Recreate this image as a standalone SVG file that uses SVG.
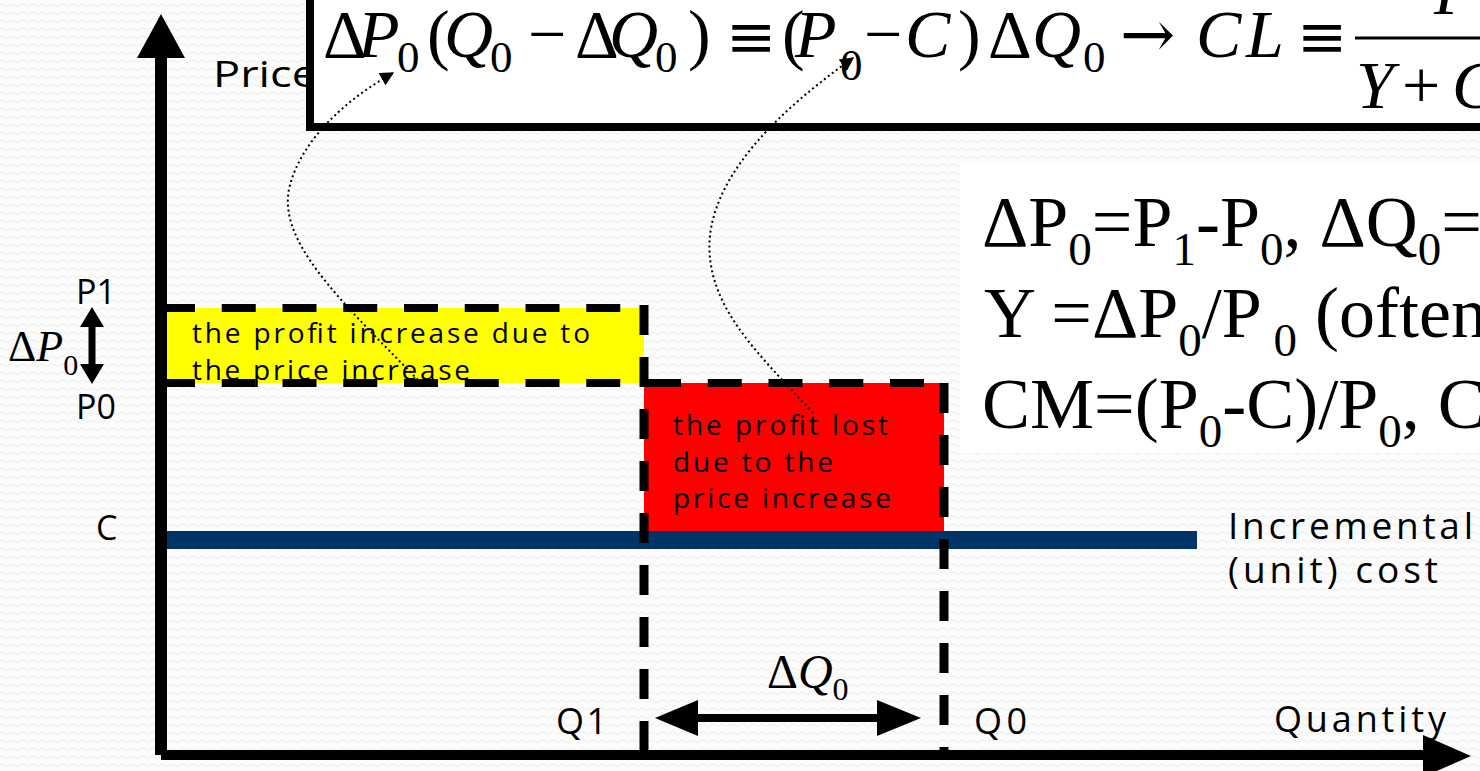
<svg xmlns="http://www.w3.org/2000/svg" width="1480" height="771" viewBox="0 0 1480 771">
<defs>
<pattern id="bgp" width="10" height="8" patternUnits="userSpaceOnUse">
<rect width="10" height="8" fill="#fcfcfc"/>
<path d="M0,5 Q2.5,2 5,5 T10,5" fill="none" stroke="#ececec" stroke-width="1"/>
</pattern>
<marker id="dotHead" viewBox="0 0 10 10" refX="9" refY="5" markerWidth="14" markerHeight="14" markerUnits="userSpaceOnUse" orient="auto">
<path d="M0,0 L10,5 L0,10 Z" fill="#000"/>
</marker>
</defs>
<style>
.lbl{font-family:"Open Sans","Noto Sans",sans-serif;fill:#000;}
.box{font-family:"Open Sans","Noto Sans",sans-serif;fill:#000;font-size:28px;}
.ser{font-family:"Liberation Serif","Times New Roman",serif;fill:#000;}
.sym{font-family:"DejaVu Serif","Liberation Serif",serif;}
.it{font-style:italic;}
.dashH{stroke:#000;stroke-width:8;stroke-dasharray:34 26.75;fill:none;}
.dashV{stroke:#000;stroke-width:9;stroke-dasharray:30 22;fill:none;}
.dotted{stroke:#000;stroke-width:2;stroke-dasharray:2 3;fill:none;}
</style>
<rect width="1480" height="771" fill="url(#bgp)"/>

<g id="price-label"><text class="lbl" x="213" y="87" font-size="36" textLength="104" lengthAdjust="spacingAndGlyphs">Price</text></g>

<g id="formula-box">
<rect x="310" y="-10" width="1200" height="137" fill="#fff" stroke="#000" stroke-width="8"/>
<g class="ser" font-size="68">
<text x="323" y="57">Δ</text>
<text x="358" y="57" class="it">P</text>
<text x="397" y="72" font-size="45">0</text>
<text x="427" y="57">(</text>
<text x="444" y="57" class="it">Q</text>
<text x="490" y="72" font-size="45">0</text>
<text x="528" y="57">−</text>
<text x="575" y="57">Δ</text>
<text x="609" y="57" class="it">Q</text>
<text x="655" y="72" font-size="45">0</text>
<text x="688" y="57">)</text>
<text x="726" y="57" class="sym" font-size="60">≡</text>
<text x="782" y="57">(</text>
<text x="795" y="57" class="it">P</text>
<text x="840" y="80" font-size="45">0</text>
<text x="864" y="57">−</text>
<text x="905" y="57" class="it">C</text>
<text x="958" y="57">)</text>
<text x="988" y="57">Δ</text>
<text x="1032" y="57" class="it">Q</text>
<text x="1083" y="72" font-size="45">0</text>
<text x="1120" y="57" class="sym" font-size="66">→</text>
<text x="1196" y="57" class="it">C</text>
<text x="1246" y="57" class="it">L</text>
<text x="1297" y="57" class="sym" font-size="60">≡</text>
<text x="1434" y="14" class="it">P</text>
<text x="1356" y="108" class="it">Y</text>
<text x="1402" y="108">+</text>
<text x="1452" y="108" class="it">C</text>
</g>
<line x1="1355" y1="38" x2="1480" y2="38" stroke="#000" stroke-width="3"/>
</g>

<g id="definitions">
<rect x="960" y="163" width="530" height="290" fill="#fff"/>
<g class="ser" font-size="72">
<text x="982" y="246">ΔP<tspan font-size="47" dy="19">0</tspan><tspan dy="-19">=P</tspan><tspan font-size="47" dy="19">1</tspan><tspan dy="-19">-P</tspan><tspan font-size="47" dy="19">0</tspan><tspan dy="-19">, ΔQ</tspan><tspan font-size="47" dy="19">0</tspan><tspan dy="-19">=</tspan></text>
<text x="984" y="337">Y =ΔP<tspan font-size="47" dy="19">0</tspan><tspan dy="-19">/P</tspan><tspan font-size="47" dy="19"> 0</tspan><tspan dy="-19"> (often</tspan></text>
<text x="982" y="428">CM=(P<tspan font-size="47" dy="19">0</tspan><tspan dy="-19">-C)/P</tspan><tspan font-size="47" dy="19">0</tspan><tspan dy="-19">, C</tspan></text>
</g>
</g>

<g id="profit-increase">
<rect x="166" y="308" width="478" height="75" fill="#ffff00"/>
<text class="box" x="192" y="343" textLength="398" lengthAdjust="spacing">the profit increase due to</text>
<text class="box" x="192" y="380" textLength="278" lengthAdjust="spacing">the price increase</text>
</g>

<g id="profit-lost">
<rect x="644" y="383" width="300" height="150" fill="#ff0000"/>
<text class="box" x="673" y="435" textLength="215" lengthAdjust="spacing">the profit lost</text>
<text class="box" x="673" y="472" textLength="160" lengthAdjust="spacing">due to the</text>
<text class="box" x="673" y="508" textLength="218" lengthAdjust="spacing">price increase</text>
</g>

<g id="cost-line">
<rect x="160" y="531" width="1037" height="18" fill="#003366"/>
<text class="lbl" x="1228" y="539" font-size="37" textLength="245" lengthAdjust="spacing">Incremental</text>
<text class="lbl" x="1228" y="583" font-size="37" textLength="210" lengthAdjust="spacing">(unit) cost</text>
</g>

<g id="axis-labels">
<text class="lbl" x="76" y="304" font-size="34">P1</text>
<text class="lbl" x="76" y="419" font-size="34">P0</text>
<text class="lbl" x="96" y="540" font-size="34">C</text>
<text class="lbl" x="556" y="734" font-size="36" textLength="51" lengthAdjust="spacing">Q1</text>
<text class="lbl" x="974" y="734" font-size="36" textLength="53" lengthAdjust="spacing">Q0</text>
<text class="lbl" x="1274" y="732" font-size="36" textLength="172" lengthAdjust="spacing">Quantity</text>
<text class="ser" x="8" y="361" font-size="44">Δ<tspan class="it">P</tspan><tspan font-size="30" dy="14">0</tspan></text>
<text class="ser" x="767" y="688" font-size="48">Δ<tspan class="it">Q</tspan><tspan font-size="32" dy="12">0</tspan></text>
</g>

<g id="connectors">
<line class="dashH" x1="161" y1="308" x2="644" y2="308"/>
<line class="dashH" x1="161" y1="383" x2="948" y2="383"/>
<line class="dashV" x1="644" y1="305" x2="644" y2="750"/>
<line class="dashV" x1="944" y1="383" x2="944" y2="750"/>
<path class="dotted" d="M418,380 C340,300 275,240 290,185 C302,140 345,100 393,73" marker-end="url(#dotHead)"/>
<path class="dotted" d="M813,413 C760,355 703,305 710,235 C718,170 780,110 853,58" marker-end="url(#dotHead)"/>
<line x1="92" y1="325" x2="92" y2="366" stroke="#000" stroke-width="7"/>
<polygon points="80,327 92,307 104,327" fill="#000"/>
<polygon points="80,364 92,384 104,364" fill="#000"/>
<line x1="690" y1="718" x2="885" y2="718" stroke="#000" stroke-width="8"/>
<polygon points="698,700 655,718 698,736" fill="#000"/>
<polygon points="877,700 921,718 877,736" fill="#000"/>
<rect x="155" y="50" width="12" height="705" fill="#000"/>
<polygon points="137,58 161,14 185,58" fill="#000"/>
<rect x="161" y="750" width="1265" height="10" fill="#000"/>
<polygon points="1423,735 1471,756 1423,777" fill="#000"/>
</g>
</svg>
